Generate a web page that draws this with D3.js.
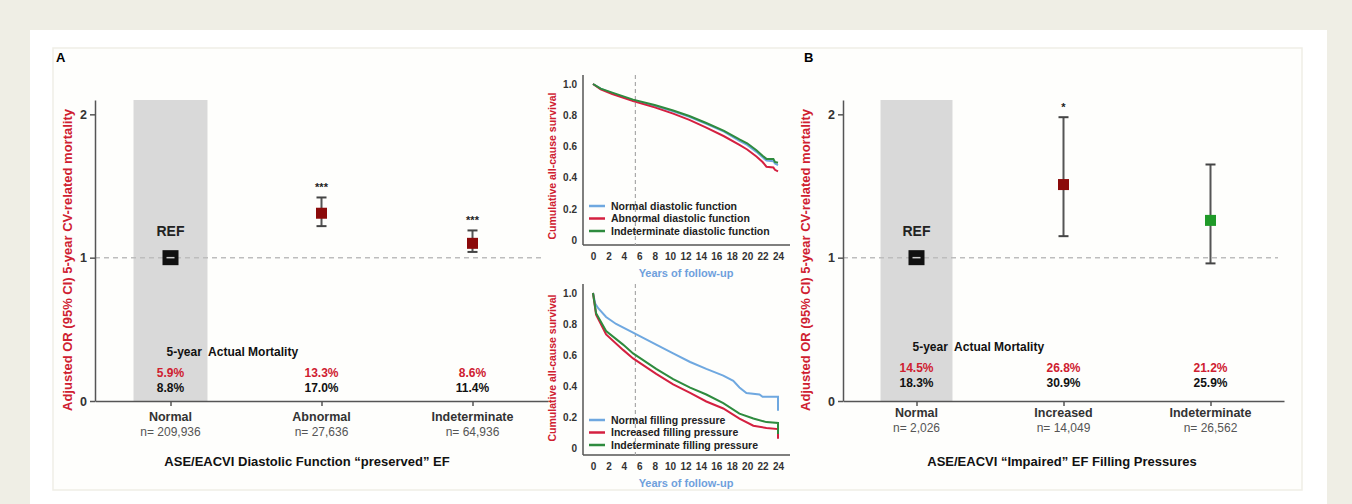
<!DOCTYPE html>
<html>
<head>
<meta charset="utf-8">
<script src="https://cdn.jsdelivr.net/npm/d3@7"></script>
<style>
  body { margin: 0; background: #efeee5; }
  svg { display: block; font-family: "Liberation Sans", Arial, sans-serif; }
</style>
</head>
<body>
<svg id="chart" width="1352" height="504"></svg>
<script>
// Panel A: diastolic function, preserved EF
const catsA = ["Normal", "Abnormal", "Indeterminate"];
const nA = ["n= 209,936", "n= 27,636", "n= 64,936"];
const orA = [1, 1.31, 1.10];
const loA = [1, 1.22, 1.04];
const hiA = [1, 1.42, 1.19];
const sigA = ["", "***", "***"];
const mortRedA = ["5.9%", "13.3%", "8.6%"];
const mortBlackA = ["8.8%", "17.0%", "11.4%"];

// Panel B: filling pressures, impaired EF
const catsB = ["Normal", "Increased", "Indeterminate"];
const nB = ["n= 2,026", "n= 14,049", "n= 26,562"];
const orB = [1, 1.51, 1.26];
const loB = [1, 1.15, 0.96];
const hiB = [1, 1.98, 1.65];
const sigB = ["", "*", ""];
const mortRedB = ["14.5%", "26.8%", "21.2%"];
const mortBlackB = ["18.3%", "30.9%", "25.9%"];

const orTicks = [0, 1, 2];
const yearTicks = [0, 2, 4, 6, 8, 10, 12, 14, 16, 18, 20, 22, 24];
const survTicks = [0, 0.2, 0.4, 0.6, 0.8, 1.0];

// Kaplan-Meier curves: [year, survival]
const diastNormal = [[0,1],[1,0.97],[2.5,0.94],[5.2,0.895],[8,0.86],[10.4,0.825],[12.5,0.79],[14.7,0.745],[17,0.695],[19,0.635],[20,0.61],[21.2,0.565],[22,0.53],[22.5,0.51],[23.4,0.505],[23.6,0.49],[24,0.48]];
const diastAbnormal = [[0,1],[1,0.965],[2.5,0.935],[5.2,0.89],[8,0.85],[10.4,0.81],[12.5,0.77],[14.7,0.72],[17,0.665],[19,0.61],[20,0.58],[21.2,0.535],[22,0.5],[22.5,0.47],[23.4,0.465],[23.6,0.45],[24,0.44]];
const diastIndet = [[0,1],[1,0.97],[2.5,0.945],[5.2,0.9],[8,0.865],[10.4,0.83],[12.5,0.795],[14.7,0.75],[17,0.7],[19,0.645],[20,0.62],[21.2,0.575],[22,0.54],[22.5,0.52],[23.4,0.52],[23.6,0.5],[24,0.495]];

const fillNormal = [[0,1],[0.3,0.93],[0.7,0.9],[1.7,0.845],[3,0.8],[5.2,0.745],[8.2,0.667],[10.4,0.61],[12.6,0.555],[14.7,0.51],[16.9,0.467],[18.2,0.433],[19,0.39],[19.9,0.355],[21.6,0.345],[22,0.33],[24,0.33],[24,0.24]];
const fillIncreased = [[0,1],[0.4,0.86],[1.7,0.733],[3.9,0.633],[5.2,0.578],[8.2,0.478],[10.4,0.41],[12.6,0.355],[14.7,0.3],[16.9,0.255],[19,0.19],[20.8,0.144],[22.5,0.129],[24,0.122],[24,0.06]];
const fillIndet = [[0,1],[0.4,0.87],[1.7,0.755],[3.9,0.667],[5.2,0.61],[8.2,0.51],[10.4,0.444],[12.6,0.39],[14.7,0.345],[16.9,0.29],[19,0.222],[20.8,0.19],[22.5,0.167],[24,0.162],[24,0.09]];

const legendTop = ["Normal diastolic function", "Abnormal diastolic function", "Indeterminate diastolic function"];
const legendBottom = ["Normal filling pressure", "Increased filling pressure", "Indeterminate filling pressure"];
const landmarkYear = 5.5;

const RED = "#cf2030";
const AXIS = "#555";
const curveColors = ["#6fa8e0", "#d42040", "#2e8b3e"];

const svg = d3.select("#chart");

// card and inner panel
svg.append("rect").attr("x", 30).attr("y", 30).attr("width", 1297).attr("height", 474).attr("fill", "#fff");
svg.append("rect").attr("x", 53).attr("y", 48).attr("width", 1249).attr("height", 442)
  .attr("fill", "#fefefc").attr("stroke", "#efeee6").attr("stroke-width", 1.5);

function forestPanel(o) {
  const g = svg.append("g");
  const x = d3.scalePoint().domain(o.cats).range([o.x0, o.x1]).padding(0.5);
  const y = d3.scaleLinear().domain([0, 2.1]).range([401, 100]);
  const band = o.bandW;

  g.append("text").attr("x", o.letterX).attr("y", 62).attr("font-size", 13).attr("font-weight", "bold").text(o.letter);

  // grey reference band
  g.append("rect").attr("x", x(o.cats[0]) - band / 2).attr("y", y(2.1))
    .attr("width", band).attr("height", y(0) - y(2.1)).attr("fill", "#d9d9d9");

  // dashed reference line
  g.append("line").attr("x1", o.x0).attr("x2", o.x1 - 6).attr("y1", y(1)).attr("y2", y(1))
    .attr("stroke", "#bdbdbd").attr("stroke-width", 1.5).attr("stroke-dasharray", "5,4");

  // y axis
  const ya = g.append("g").attr("transform", `translate(${o.x0},0)`)
    .call(d3.axisLeft(y).tickValues(orTicks).tickSize(5).tickSizeOuter(0).tickFormat(d3.format("d")));
  ya.select(".domain").attr("stroke", AXIS).attr("stroke-width", 1.5);
  ya.selectAll(".tick line").attr("stroke", AXIS).attr("stroke-width", 1.5);
  ya.selectAll(".tick text").attr("font-size", 12.5).attr("font-weight", "bold").attr("fill", "#333")
    .attr("font-family", "Liberation Sans, Arial, sans-serif");

  // x axis
  const xa = g.append("g").attr("transform", `translate(0,${y(0)})`)
    .call(d3.axisBottom(x).tickSize(5).tickSizeOuter(0).tickFormat(""));
  xa.select(".domain").attr("stroke", AXIS).attr("stroke-width", 1.5);
  xa.selectAll(".tick line").attr("stroke", AXIS).attr("stroke-width", 1.5);

  // error bars
  o.cats.forEach((c, i) => {
    const cx = x(c);
    if (i === 0) {
      g.append("rect").attr("x", cx - 8).attr("y", y(o.or[i]) - 7.5).attr("width", 16).attr("height", 15).attr("fill", "#111");
      g.append("line").attr("x1", cx - 4).attr("x2", cx + 4).attr("y1", y(o.or[i])).attr("y2", y(o.or[i]))
        .attr("stroke", "#ccc").attr("stroke-width", 1.5);
      g.append("text").attr("x", cx).attr("y", y(1) - 22).attr("text-anchor", "middle")
        .attr("font-size", 14).attr("font-weight", "bold").attr("fill", "#222").text("REF");
      return;
    }
    g.append("line").attr("x1", cx).attr("x2", cx).attr("y1", y(o.lo[i])).attr("y2", y(o.hi[i]))
      .attr("stroke", "#555").attr("stroke-width", 2);
    [o.lo[i], o.hi[i]].forEach(v => {
      g.append("line").attr("x1", cx - 5).attr("x2", cx + 5).attr("y1", y(v)).attr("y2", y(v))
        .attr("stroke", "#444").attr("stroke-width", 2);
    });
    g.append("rect").attr("x", cx - 5.5).attr("y", y(o.or[i]) - 5.5).attr("width", 11).attr("height", 11)
      .attr("fill", o.colors[i]);
    if (o.sig[i]) {
      g.append("text").attr("x", cx).attr("y", y(o.hi[i]) - 6).attr("text-anchor", "middle")
        .attr("font-size", 11).attr("font-weight", "bold").attr("fill", "#222").text(o.sig[i]);
    }
  });

  // actual mortality block
  g.append("text").attr("x", x(o.cats[0]) - 4).attr("y", o.mortY).attr("font-size", 12)
    .attr("font-weight", "bold").attr("fill", "#111").attr("xml:space", "preserve").text("5-year  Actual Mortality");
  o.cats.forEach((c, i) => {
    g.append("text").attr("x", x(c)).attr("y", o.mortY + 21).attr("text-anchor", "middle")
      .attr("font-size", 12).attr("font-weight", "bold").attr("fill", RED).text(o.mortRed[i]);
    g.append("text").attr("x", x(c)).attr("y", o.mortY + 36).attr("text-anchor", "middle")
      .attr("font-size", 12).attr("font-weight", "bold").attr("fill", "#111").text(o.mortBlack[i]);
    g.append("text").attr("x", x(c)).attr("y", o.catY).attr("text-anchor", "middle")
      .attr("font-size", 12.5).attr("font-weight", "bold").attr("fill", "#333").text(c);
    g.append("text").attr("x", x(c)).attr("y", o.catY + 15).attr("text-anchor", "middle")
      .attr("font-size", 12).attr("fill", "#555").text(o.n[i]);
  });

  g.append("text").attr("x", o.titleX).attr("y", 466).attr("text-anchor", "middle")
    .attr("font-size", 13).attr("font-weight", "bold").attr("fill", "#111").text(o.title);

  g.append("text").attr("transform", `translate(${o.yLabelX},260) rotate(-90)`).attr("text-anchor", "middle")
    .attr("font-size", 13).attr("font-weight", "bold").attr("fill", RED)
    .text("Adjusted OR (95% CI) 5-year CV-related mortality");
}

forestPanel({
  letter: "A", letterX: 56, x0: 95, x1: 548, bandW: 74,
  cats: catsA, n: nA, or: orA, lo: loA, hi: hiA, sig: sigA,
  mortRed: mortRedA, mortBlack: mortBlackA, colors: ["#111", "#8b0a0a", "#8b0a0a"],
  mortY: 356, catY: 421, titleX: 307, yLabelX: 72,
  title: "ASE/EACVI Diastolic Function \u201Cpreserved\u201D EF"
});

forestPanel({
  letter: "B", letterX: 804, x0: 843, x1: 1284, bandW: 72,
  cats: catsB, n: nB, or: orB, lo: loB, hi: hiB, sig: sigB,
  mortRed: mortRedB, mortBlack: mortBlackB, colors: ["#111", "#8b0a0a", "#1f9a28"],
  mortY: 351, catY: 417, titleX: 1062, yLabelX: 810,
  title: "ASE/EACVI \u201CImpaired\u201D EF Filling Pressures"
});

function survivalPlot(o) {
  const g = svg.append("g");
  const x = d3.scaleLinear().domain([0, 24]).range([593, 778]);
  const y = d3.scaleLinear().domain([0, 1]).range([o.yZero, o.yOne]);

  // axes lines
  g.append("line").attr("x1", 583).attr("x2", 583).attr("y1", o.yOne - 9).attr("y2", o.axisY)
    .attr("stroke", AXIS).attr("stroke-width", 1.5);
  g.append("line").attr("x1", 583).attr("x2", 790).attr("y1", o.axisY).attr("y2", o.axisY)
    .attr("stroke", AXIS).attr("stroke-width", 1.5);

  const ya = g.append("g").attr("transform", "translate(583,0)")
    .call(d3.axisLeft(y).tickValues(survTicks).tickSize(0).tickPadding(6)
      .tickFormat(d => d === 0 ? "0" : d3.format(".1f")(d)));
  ya.select(".domain").remove();
  ya.selectAll(".tick text").attr("font-size", 10).attr("font-weight", "bold").attr("fill", "#333")
    .attr("font-family", "Liberation Sans, Arial, sans-serif");

  const xa = g.append("g").attr("transform", `translate(0,${o.axisY})`)
    .call(d3.axisBottom(x).tickValues(yearTicks).tickSize(0).tickPadding(8));
  xa.select(".domain").remove();
  xa.selectAll(".tick text").attr("font-size", 10).attr("font-weight", "bold").attr("fill", "#333")
    .attr("font-family", "Liberation Sans, Arial, sans-serif");

  g.append("text").attr("x", 686).attr("y", o.axisY + 32).attr("text-anchor", "middle")
    .attr("font-size", 11).attr("font-weight", "bold").attr("fill", "#6fa0dc").text("Years of follow-up");

  g.append("text").attr("transform", `translate(556,${o.labelY}) rotate(-90)`).attr("text-anchor", "middle")
    .attr("font-size", 10.5).attr("font-weight", "bold").attr("fill", RED).text("Cumulative all-cause survival");

  // landmark at 5.5 years
  g.append("line").attr("x1", x(landmarkYear)).attr("x2", x(landmarkYear)).attr("y1", o.yOne - 9).attr("y2", o.axisY)
    .attr("stroke", "#aaa").attr("stroke-width", 1.2).attr("stroke-dasharray", "4,3");

  const line = d3.line().x(d => x(d[0])).y(d => y(d[1]));
  o.series.forEach((s, i) => {
    g.append("path").datum(s).attr("d", line).attr("fill", "none")
      .attr("stroke", curveColors[i]).attr("stroke-width", 2);
  });

  o.legend.forEach((t, i) => {
    const ly = o.legendY + i * 12.5;
    g.append("line").attr("x1", 589).attr("x2", 605).attr("y1", ly).attr("y2", ly)
      .attr("stroke", curveColors[i]).attr("stroke-width", 2.5);
    g.append("text").attr("x", 611).attr("y", ly + 3.5).attr("font-size", 10.5).attr("font-weight", "bold")
      .attr("fill", "#222").text(t);
  });
}

survivalPlot({
  yOne: 84, yZero: 240, axisY: 245, labelY: 166, legendY: 206,
  series: [diastNormal, diastAbnormal, diastIndet], legend: legendTop
});

survivalPlot({
  yOne: 293, yZero: 448, axisY: 455, labelY: 368, legendY: 420,
  series: [fillNormal, fillIncreased, fillIndet], legend: legendBottom
});
</script>
</body>
</html>
